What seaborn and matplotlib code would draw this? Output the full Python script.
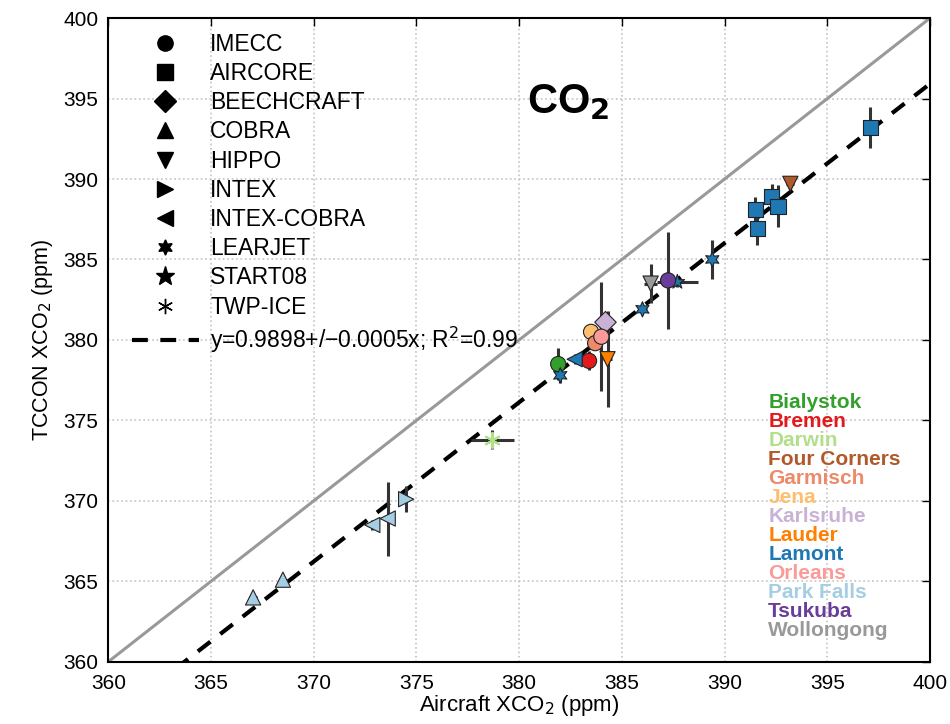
import matplotlib
matplotlib.use("Agg")
import matplotlib.pyplot as plt
from matplotlib.lines import Line2D
import seaborn as sns
import pandas as pd
import numpy as np

# ---------------------------------------------------------------------------
# Data
# ---------------------------------------------------------------------------
STATIONS = ["Bialystok", "Bremen", "Darwin", "Four Corners", "Garmisch", "Jena",
            "Karlsruhe", "Lauder", "Lamont", "Orleans", "Park Falls", "Tsukuba",
            "Wollongong"]
STATION_COLORS = ["#33a02c", "#e31a1c", "#b2df8a", "#b15928", "#ec8a6a", "#fdbf6f",
                  "#cab2d6", "#ff7f00", "#1f78b4", "#fb9a99", "#a6cee3", "#6a3d9a",
                  "#999999"]

CAMPAIGNS = ["IMECC", "AIRCORE", "BEECHCRAFT", "COBRA", "HIPPO", "INTEX",
             "INTEX-COBRA", "LEARJET", "START08", "TWP-ICE"]
CAMPAIGN_MARKERS = ["o", "s", "D", "^", "v", ">", "<", (6, 1, 0), "*", (6, 2, 0)]

pt_station = ["Lamont", "Lamont", "Lamont", "Lamont", "Lamont", "Four Corners",
              "Lamont", "Lamont", "Tsukuba", "Wollongong", "Lamont", "Karlsruhe",
              "Jena", "Garmisch", "Orleans", "Lauder", "Bremen", "Lamont",
              "Bialystok", "Lamont", "Darwin", "Park Falls", "Park Falls",
              "Park Falls", "Park Falls", "Park Falls"]
pt_campaign = ["AIRCORE", "AIRCORE", "AIRCORE", "AIRCORE", "AIRCORE", "HIPPO",
               "LEARJET", "START08", "IMECC", "HIPPO", "LEARJET", "BEECHCRAFT",
               "IMECC", "IMECC", "IMECC", "HIPPO", "IMECC", "INTEX-COBRA",
               "IMECC", "LEARJET", "TWP-ICE", "INTEX", "INTEX-COBRA",
               "INTEX-COBRA", "COBRA", "COBRA"]
pt_x = [397.1, 391.5, 391.6, 392.3, 392.6, 393.2, 389.4, 387.7, 387.25, 386.4,
        386.0, 384.2, 383.5, 383.7, 384.0, 384.3, 383.4, 382.7, 381.9, 382.0,
        378.7, 374.5, 373.6, 372.85, 367.05, 368.5]
pt_y = [393.2, 388.1, 386.9, 388.9, 388.3, 389.7, 385.0, 383.6, 383.7, 383.5,
        381.9, 381.1, 380.5, 379.8, 380.2, 378.8, 378.7, 378.8, 378.5, 377.8,
        373.8, 370.1, 368.9, 368.5, 364.0, 365.1]
pt_xerr = [0.3, 0.2, 0.2, 0.2, 0.2, 0.2, 0.2, 1.0, 0.3, 0.3, 0.2, 0.2, 0.2, 0.2,
           0.2, 0.2, 0.3, 0.2, 0.3, 0.2, 1.05, 0.2, 0.2, 0.2, 0.2, 0.2]
pt_yerr = [1.3, 0.8, 1.0, 0.8, 1.3, 0.3, 1.2, 0.3, 3.0, 1.2, 0.3, 0.4, 0.3, 0.3,
           3.4, 3.0, 0.6, 0.3, 1.0, 0.5, 0.6, 0.8, 2.3, 0.3, 0.3, 0.3]

SLOPE = 0.9898
FIT_LABEL = "y=0.9898+/\u22120.0005x; R$^2$=0.99"
TICKS = [360, 365, 370, 375, 380, 385, 390, 395, 400]

df = pd.DataFrame({"station": pt_station, "campaign": pt_campaign,
                   "x": pt_x, "y": pt_y, "xerr": pt_xerr, "yerr": pt_yerr})
palette = dict(zip(STATIONS, STATION_COLORS))
markers = dict(zip(CAMPAIGNS, CAMPAIGN_MARKERS))

# ---------------------------------------------------------------------------
# Figure
# ---------------------------------------------------------------------------
sns.set_style("white")
plt.rcParams["font.family"] = ["Liberation Sans", "DejaVu Sans"]
plt.rcParams["text.color"] = "black"
plt.rcParams["axes.labelcolor"] = "black"

fig = plt.figure(figsize=(9.5, 7.24), dpi=100)
ax = fig.add_axes([0.114, 0.086, 0.865, 0.889])

ax.set_xlim(360, 400)
ax.set_ylim(360, 400)
ax.grid(True, linestyle=":", color="#c4c4c4", linewidth=1.2)

# 1:1 line and fit
line_x = np.array([360, 400])
ax.plot(line_x, line_x, color="#999999", linewidth=2.2, zorder=1)
ax.plot(line_x, SLOPE * line_x, color="black", linewidth=3,
        dashes=(3.8, 3), zorder=2)

# error bars
ax.errorbar(df["x"], df["y"], xerr=df["xerr"], yerr=df["yerr"], fmt="none",
            ecolor="#333333", elinewidth=2.2, capsize=0, zorder=3)

# points (asterisk markers are line art -> drawn separately)
filled = df[df["campaign"] != "TWP-ICE"]
sns.scatterplot(data=filled, x="x", y="y", hue="station", style="campaign",
                palette=palette, markers={k: markers[k] for k in filled["campaign"].unique()},
                s=120, edgecolor="#222222", linewidth=0.8, legend=False,
                ax=ax, zorder=4)
twp = df[df["campaign"] == "TWP-ICE"]
sns.scatterplot(data=twp, x="x", y="y", hue="station", palette=palette,
                marker=markers["TWP-ICE"], s=120, linewidth=1.5,
                legend=False, ax=ax, zorder=4)

# campaign legend
handles = [Line2D([], [], linestyle="none", marker=m, color="black",
                  markersize=11 if m not in ("*",) else 14)
           for m in CAMPAIGN_MARKERS]
handles.append(Line2D([], [], color="black", linewidth=3, dashes=(3.8, 3)))
leg = ax.legend(handles, CAMPAIGNS + [FIT_LABEL], loc="upper left",
                bbox_to_anchor=(0.029, 0.977), borderaxespad=0, borderpad=0,
                frameon=False, fontsize=16.5, handlelength=2.9, handletextpad=0.5,
                labelspacing=0.27)
for t in leg.get_texts():
    t.set_color("black")

# station labels
for i, (name, col) in enumerate(zip(STATIONS, STATION_COLORS)):
    ax.text(0.803, 0.402 - i * 0.0295, name, color=col, fontsize=15,
            fontweight="bold", transform=ax.transAxes, va="center", ha="left")

ax.text(0.51, 0.87, "CO$_\\mathbf{2}$", fontsize=30, fontweight="bold",
        transform=ax.transAxes, ha="left", va="center")

ax.set_xticks(TICKS)
ax.set_yticks(TICKS)
ax.tick_params(direction="in", length=6, width=1, top=True, right=True,
               labelsize=15, colors="black")
ax.tick_params(axis="x", pad=9)
ax.tick_params(axis="y", pad=7)
for sp in ax.spines.values():
    sp.set_color("black")
    sp.set_linewidth(1.5)
ax.set_xlabel("Aircraft XCO$_2$ (ppm)", fontsize=16, labelpad=0)
ax.set_ylabel("TCCON XCO$_2$ (ppm)", fontsize=15.5, labelpad=6)

fig.savefig("out.png", dpi=100)
